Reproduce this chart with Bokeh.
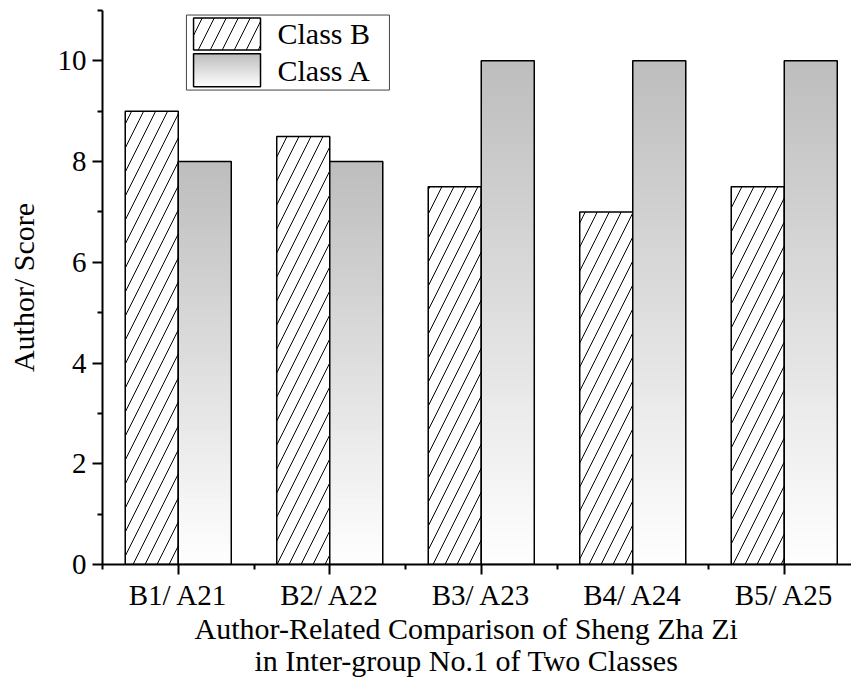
from bokeh.plotting import figure
from bokeh.models import Range1d, FixedTicker, Title
from bokeh.core.properties import value
from bokeh.embed import file_html
from bokeh.resources import INLINE

categories = ["B1/ A21", "B2/ A22", "B3/ A23", "B4/ A24", "B5/ A25"]
class_b = [9.0, 8.5, 7.5, 7.0, 7.5]
class_a = [8.0, 8.0, 10.0, 10.0, 10.0]
y_major = [0, 2, 4, 6, 8, 10]
y_minor = [1, 3, 5, 7, 9, 11]
x_title_lines = ["Author-Related Comparison of Sheng Zha Zi",
                 "in Inter-group No.1 of Two Classes"]
y_title = "Author/ Score"

FONT = "Liberation Serif"
BAR_W = 0.35
N_SLICES = 60
TOP_GRAY = 189  # gradient: gray at bar top -> white at bottom
HATCH_SCALE = 24

centers = [i + 1 for i in range(len(categories))]

W, H = 851, 680
ML, MT, MB = 102, 10, 116
PX_PER_X = 151.5
p = figure(width=W, height=H, output_backend="svg", toolbar_location=None,
           x_range=Range1d(0.5, 0.5 + (W - ML) / PX_PER_X), y_range=Range1d(0, 11),
           min_border_left=ML, min_border_right=0, min_border_top=MT, min_border_bottom=MB)
p.outline_line_color = None
p.xgrid.visible = False
p.ygrid.visible = False
p.background_fill_color = "white"
p.border_fill_color = "white"


def gray(t):
    g = int(round(255 - (255 - TOP_GRAY) * t))
    return "#%02x%02x%02x" % (g, g, g)


# Class B: hatched bars, left of center
p.vbar(x=[c - BAR_W / 2 for c in centers], top=class_b, width=BAR_W, bottom=0,
       fill_color="white", hatch_pattern="/", hatch_color="black", hatch_scale=HATCH_SCALE,
       hatch_weight=1, line_color="black", line_width=1.5)

# Class A: vertical gradient bars, right of center
# (nested, overlapping quads from the full bar down to the lowest slice: no seams)
ql, qr, qb, qt, qc = [], [], [], [], []
for c, v in zip(centers, class_a):
    for i in range(N_SLICES - 1, -1, -1):
        ql.append(c)
        qr.append(c + BAR_W)
        qb.append(0)
        qt.append(v * (i + 1) / N_SLICES)
        qc.append(gray((i + 0.5) / N_SLICES))
p.quad(left=ql, right=qr, bottom=qb, top=qt, fill_color=qc, line_color=None)
p.vbar(x=[c + BAR_W / 2 for c in centers], top=class_a, width=BAR_W, bottom=0,
       fill_alpha=0, line_color="black", line_width=1.5)

# Legend (drawn manually so the gradient swatch can be shown)
LX0, LX1, LY0, LY1 = 1.054, 2.394, 9.42, 10.91
p.quad(left=[LX0], right=[LX1], bottom=[LY0], top=[LY1], fill_color="white",
       line_color="#444444", line_width=1)
SX0, SX1 = 1.101, 1.543
p.quad(left=[SX0], right=[SX1], bottom=[10.218], top=[10.853], fill_color="white",
       hatch_pattern="/", hatch_color="black", hatch_scale=HATCH_SCALE, hatch_weight=1,
       line_color="black", line_width=1.5)
gl, gr, gb, gt, gc = [], [], [], [], []
gy0, gy1 = 9.484, 10.139
NL = 30
for i in range(NL - 1, -1, -1):
    gl.append(SX0)
    gr.append(SX1)
    gb.append(gy0)
    gt.append(gy0 + (gy1 - gy0) * (i + 1) / NL)
    gc.append(gray((i + 0.5) / NL))
p.quad(left=gl, right=gr, bottom=gb, top=gt, fill_color=gc, line_color=None)
p.quad(left=[SX0], right=[SX1], bottom=[gy0], top=[gy1], fill_alpha=0,
       line_color="black", line_width=1.5)
p.text(x=[1.655, 1.655], y=[10.536, 9.81], text=["Class B", "Class A"],
       text_font=value(FONT), text_font_size="30px", text_baseline="middle",
       text_align="left", text_color="black")

# Axes
p.xaxis.ticker = FixedTicker(ticks=centers, minor_ticks=[c - 0.5 for c in centers])
p.xaxis.major_label_overrides = {c: lab for c, lab in zip(centers, categories)}
p.yaxis.ticker = FixedTicker(ticks=y_major, minor_ticks=y_minor)
for ax in (p.xaxis, p.yaxis):
    ax.axis_line_width = 2
    ax.axis_line_color = "black"
    ax.major_tick_line_width = 2
    ax.minor_tick_line_width = 2
    ax.major_tick_line_color = "black"
    ax.minor_tick_line_color = "black"
    ax.major_tick_in = 0
    ax.minor_tick_in = 0
    ax.major_tick_out = 10
    ax.minor_tick_out = 5
    ax.major_label_text_font = FONT
    ax.major_label_text_font_size = "29px"
    ax.major_label_text_color = "black"
    ax.axis_label_text_font = FONT
    ax.axis_label_text_font_size = "30px"
    ax.axis_label_text_font_style = "normal"
    ax.axis_label_text_color = "black"
p.xaxis.major_label_standoff = 4
p.yaxis.major_label_standoff = 6
p.yaxis.axis_label = y_title
p.yaxis.axis_label_standoff = 15

# Two-line x title as left-aligned titles below the axis
for txt, off, so in zip(x_title_lines, [92, 152], [-4, -2]):
    t = Title(text=txt, align="left", offset=off, text_font=FONT, text_font_size="30px",
              text_font_style="normal", text_color="black", standoff=so,
              vertical_align="top", text_line_height=1.0)
    p.add_layout(t, "below")

open("out.html", "w").write(file_html(p, INLINE))
